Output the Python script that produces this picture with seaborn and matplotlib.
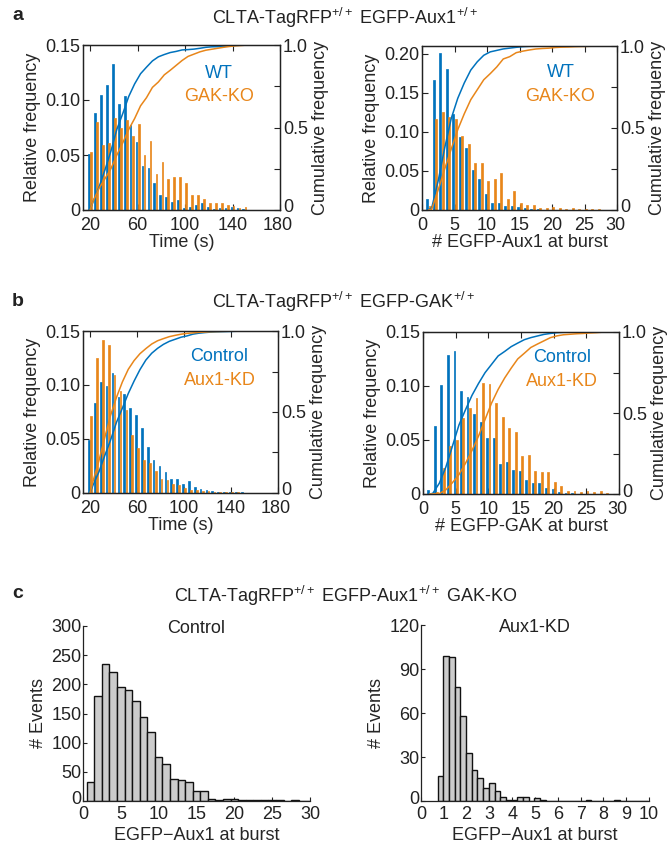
import numpy as np
import pandas as pd
import matplotlib
matplotlib.use("Agg")
import matplotlib.pyplot as plt
import matplotlib.transforms as mtransforms
import seaborn as sns

sns.set_theme(style="ticks")
plt.rcParams['font.family'] = ['Liberation Sans', 'DejaVu Sans']
plt.rcParams['mathtext.default'] = 'regular'
plt.rcParams['axes.edgecolor'] = '#222222'
plt.rcParams['text.color'] = '#222222'
plt.rcParams['xtick.color'] = '#222222'
plt.rcParams['ytick.color'] = '#222222'

BLUE = '#0072BD'
ORANGE = '#E8861A'
FS = 13

# ---- panel a: CLTA-TagRFP / EGFP-Aux1, WT vs GAK-KO ----
time_bins = np.arange(20, 185, 5)
wt_time = [0.051, 0.088, 0.105, 0.114, 0.133, 0.096, 0.104, 0.077, 0.062, 0.040,
           0.038, 0.025, 0.014, 0.012, 0.007, 0.009, 0.002, 0.003, 0.005, 0.006,
           0.003, 0.001, 0.002, 0.002, 0.003, 0.002, 0.001, 0, 0, 0, 0, 0, 0]
gakko_time = [0.053, 0.080, 0.059, 0.061, 0.084, 0.075, 0.082, 0.067, 0.078, 0.050,
              0.063, 0.033, 0.044, 0.028, 0.030, 0.030, 0.025, 0.014, 0.014, 0.010,
              0.006, 0.006, 0.006, 0.005, 0.004, 0.002, 0.003, 0, 0, 0, 0, 0, 0]

count_bins = np.arange(1, 31, 1)
wt_aux1 = [0.014, 0.167, 0.201, 0.180, 0.123, 0.094, 0.079, 0.051, 0.040, 0.021,
           0.009, 0.009, 0.005, 0.005, 0.004, 0.002, 0.001, 0.001, 0, 0,
           0, 0, 0, 0, 0, 0, 0, 0, 0, 0]
gakko_aux1 = [0.005, 0.117, 0.126, 0.119, 0.116, 0.095, 0.085, 0.060, 0.060, 0.037,
              0.040, 0.048, 0.014, 0.024, 0.009, 0.007, 0.006, 0.003, 0.002, 0.004,
              0.002, 0.001, 0.002, 0.001, 0.001, 0.001, 0.001, 0, 0, 0]

# ---- panel b: CLTA-TagRFP / EGFP-GAK, Control vs Aux1-KD ----
ctrl_time = [0.049, 0.083, 0.103, 0.099, 0.111, 0.089, 0.092, 0.079, 0.072, 0.060,
             0.043, 0.031, 0.025, 0.019, 0.013, 0.013, 0.008, 0.011, 0.006, 0.004,
             0.003, 0.002, 0.001, 0.001, 0.001, 0.001, 0.001, 0, 0, 0, 0, 0, 0]
kd_time = [0.071, 0.125, 0.142, 0.137, 0.109, 0.094, 0.077, 0.054, 0.042, 0.031,
           0.028, 0.020, 0.013, 0.012, 0.008, 0.007, 0.005, 0.003, 0.003, 0.002,
           0.002, 0.001, 0.001, 0.001, 0.001, 0.0005, 0, 0, 0, 0, 0, 0, 0]

ctrl_gak = [0.004, 0.063, 0.101, 0.129, 0.132, 0.095, 0.090, 0.074, 0.067, 0.052,
            0.052, 0.028, 0.030, 0.022, 0.021, 0.013, 0.010, 0.010, 0.006, 0.005,
            0.002, 0.001, 0.001, 0, 0, 0, 0, 0, 0, 0]
kd_gak = [0, 0.002, 0.024, 0.044, 0.050, 0.070, 0.080, 0.089, 0.103, 0.102,
          0.084, 0.071, 0.061, 0.057, 0.035, 0.036, 0.021, 0.020, 0.020, 0.011,
          0.007, 0.003, 0.003, 0.002, 0.003, 0.002, 0.003, 0.001, 0, 0]

# ---- panel c: EGFP-Aux1 at burst in GAK-KO, event counts ----
ctrl_burst_bins = np.arange(1, 31, 1)
ctrl_burst_counts = [32, 180, 235, 221, 196, 190, 171, 144, 119, 76,
                     63, 37, 36, 33, 18, 18, 4, 1, 3, 3,
                     1, 1, 2, 2, 1, 1, 0, 1, 0, 0]
kd_burst_bins = np.arange(0.85, 9.9, 0.25)
kd_burst_counts = [17, 99, 98, 78, 58, 33, 21, 16, 9, 12,
                   7, 3, 1, 1, 3, 3, 0, 2, 1, 0,
                   0, 0, 0, 0, 0, 0, 1, 0, 0, 0,
                   0, 1, 0, 0, 0, 0, 0]

W, H = 668, 850
fig = plt.figure(figsize=(W / 100, H / 100), dpi=100)


def add_ax(l, r, t, b):
    return fig.add_axes([l / W, 1 - b / H, (r - l) / W, (b - t) / H])


def cum_curve(bins, vals, step):
    vals = np.asarray(vals, float)
    last = np.nonzero(vals)[0].max()
    c = np.cumsum(vals[:last + 1]) / vals.sum()
    x = np.concatenate([[bins[0]], bins[:last + 1] + step / 2])
    y = np.concatenate([[0], c])
    return x, y


def nudge(label, dx, dy):
    label.set_transform(label.get_transform() +
                        mtransforms.ScaledTranslation(dx / 100, dy / 100,
                                                      fig.dpi_scale_trans))


def freq_panel(ax, bins, v1, v2, names, step, xlim, xticks, ymax, yticks, yticklabels,
               xlabel, legend_xy):
    n = len(v1)
    df = pd.DataFrame({
        'bin': np.concatenate([bins[:n], bins[:n]]),
        'freq': list(v1) + list(v2),
        'group': [names[0]] * n + [names[1]] * n,
    })
    sns.barplot(data=df, x='bin', y='freq', hue='group', hue_order=names,
                palette=[BLUE, ORANGE], native_scale=True, width=0.72, gap=0.2,
                errorbar=None, saturation=1, linewidth=0, legend=False, ax=ax)
    for p in ax.patches:
        p.set_edgecolor(p.get_facecolor())
        p.set_linewidth(0.5)
    ax.set_xlim(*xlim)
    ax.set_ylim(0, ymax)
    ax.set_xticks(xticks)
    ax.set_xticklabels([str(t) for t in xticks])
    ax.set_yticks(yticks)
    ax.set_yticklabels(yticklabels)
    ax.set_xlabel(xlabel, fontsize=FS, labelpad=0)
    ax.set_ylabel('Relative frequency', fontsize=FS, labelpad=3)
    ax.tick_params(direction='in', length=4, width=0.8, labelsize=FS, pad=2,
                   top=True, right=False)
    ax.tick_params(axis='x', pad=5)
    nudge(ax.get_xticklabels()[-1], -2, 0)

    ax2 = ax.twinx()
    for vals, col in [(v1, BLUE), (v2, ORANGE)]:
        cx, cy = cum_curve(bins, vals, step)
        sns.lineplot(x=cx, y=cy, color=col, linewidth=1.1, ax=ax2)
    ax2.set_ylim(0, 1)
    ax2.set_xlim(*xlim)
    ax2.set_yticks([0, 0.25, 0.5, 0.75, 1.0])
    ax2.set_yticklabels(['0', '', '0.5', '', '1.0'])
    ax2.set_ylabel('Cumulative frequency', fontsize=FS, labelpad=3)
    ax2.tick_params(direction='in', length=4, width=0.8, labelsize=FS, pad=2)
    nudge(ax2.get_yticklabels()[0], 0, 4)
    for a in (ax, ax2):
        for s in a.spines.values():
            s.set_linewidth(0.9)
    ax.text(legend_xy[0], legend_xy[1], names[0], color=BLUE, fontsize=FS,
            ha='center', va='center', transform=ax.transAxes)
    ax.text(legend_xy[0], legend_xy[1] - 0.145, names[1], color=ORANGE, fontsize=FS,
            ha='center', va='center', transform=ax.transAxes)


def count_panel(ax, bins, counts, width, binrange, xlim, xticks, ylim, yticks, title):
    sns.histplot(x=bins, weights=counts, binwidth=width, binrange=binrange,
                 color='#CCCCCC', edgecolor='#111111', linewidth=1.0, alpha=1, ax=ax)
    ax.set_xlim(*xlim)
    ax.set_ylim(*ylim)
    ax.set_xticks(xticks)
    ax.set_xticklabels([str(t) for t in xticks])
    ax.set_yticks(yticks)
    ax.set_xlabel('EGFP\u2212Aux1 at burst', fontsize=FS, labelpad=3)
    ax.set_ylabel('# Events', fontsize=FS, labelpad=3)
    ax.tick_params(direction='in', length=3, width=0.8, labelsize=FS, pad=1)
    ax.tick_params(axis='x', pad=3.5)
    nudge(ax.get_yticklabels()[0], 0, 4)
    sns.despine(ax=ax)
    for s in ax.spines.values():
        s.set_linewidth(0.9)
    ax.set_title(title, fontsize=FS, pad=-5, y=1.0)


# panel a
ax = add_ax(83, 280, 45, 210)
freq_panel(ax, time_bins, wt_time, gakko_time, ['WT', 'GAK-KO'], 5, (14, 180),
           [20, 60, 100, 140, 180], 0.15, [0, 0.05, 0.10, 0.15],
           ['0', '0.05', '0.10', '0.15'], 'Time (s)', (0.69, 0.83))
ax = add_ax(422, 617, 46, 210)
freq_panel(ax, count_bins, wt_aux1, gakko_aux1, ['WT', 'GAK-KO'], 1, (0, 30),
           [0, 5, 10, 15, 20, 25, 30], 0.21, [0, 0.05, 0.10, 0.15, 0.20],
           ['0', '0.05', '0.10', '0.15', '0.20'], '# EGFP-Aux1 at burst', (0.71, 0.84))

# panel b
ax = add_ax(83, 278, 331, 493)
freq_panel(ax, time_bins, ctrl_time, kd_time, ['Control', 'Aux1-KD'], 5, (14, 180),
           [20, 60, 100, 140, 180], 0.15, [0, 0.05, 0.10, 0.15],
           ['0', '0.05', '0.10', '0.15'], 'Time (s)', (0.70, 0.84))
ax = add_ax(423, 619, 332, 494)
freq_panel(ax, count_bins, ctrl_gak, kd_gak, ['Control', 'Aux1-KD'], 1, (0, 30),
           [0, 5, 10, 15, 20, 25, 30], 0.15, [0, 0.05, 0.10, 0.15],
           ['0', '0.05', '0.10', '0.15'], '# EGFP-GAK at burst', (0.71, 0.84))

# panel c
ax = add_ax(83, 310, 626, 801)
count_panel(ax, ctrl_burst_bins, ctrl_burst_counts, 1, (0.5, 30.5), (0, 30),
            [0, 5, 10, 15, 20, 25, 30], (0, 300), [0, 50, 100, 150, 200, 250, 300],
            'Control')
ax = add_ax(421, 649, 625, 801)
count_panel(ax, kd_burst_bins, kd_burst_counts, 0.25, (0.725, 9.975), (0, 10),
            list(range(0, 11)), (0, 120), [0, 30, 60, 90, 120], 'Aux1-KD')

# headers and panel letters
fig.text(345 / W, 1 - 18 / H, 'CLTA-TagRFP$^{+/+}$ EGFP-Aux1$^{+/+}$', fontsize=FS,
         ha='center', va='center')
fig.text(344 / W, 1 - 302 / H, 'CLTA-TagRFP$^{+/+}$ EGFP-GAK$^{+/+}$', fontsize=FS,
         ha='center', va='center')
fig.text(346 / W, 1 - 596 / H, 'CLTA-TagRFP$^{+/+}$ EGFP-Aux1$^{+/+}$ GAK-KO',
         fontsize=FS, ha='center', va='center')
for letter, y in [('a', 16), ('b', 301), ('c', 594)]:
    fig.text(18 / W, 1 - y / H, letter, fontsize=FS + 1, fontweight='bold',
             ha='center', va='center')

fig.savefig('out.png', dpi=100)
